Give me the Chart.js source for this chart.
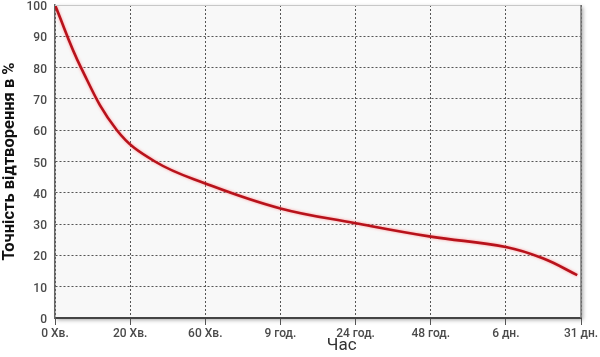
<!DOCTYPE html>
<html>
<head>
<meta charset="utf-8">
<script src="https://cdn.jsdelivr.net/npm/chart.js@4/dist/chart.umd.min.js"></script>
<style>
html,body{margin:0;padding:0;background:#fff;}
#wrap{width:600px;height:357px;position:relative;}
</style>
</head>
<body>
<div id="wrap"><canvas id="c" width="600" height="357"></canvas></div>
<script>
// Category tick labels along the time axis
const categories = ["0 Хв.", "20 Хв.", "60 Хв.", "9 год.", "24 год.", "48 год.", "6 дн.", "31 дн."];
// Curve samples: position along the axis (in category steps) and accuracy in %
const curveX = [0, 0.346, 0.824, 1.33, 2.0, 3.0, 4.0, 5.0, 6.0, 6.5, 6.95];
const curveY = [100, 80, 60, 50, 43, 35, 30.3, 26, 22.7, 19, 13.7];
const yTicks = [0, 10, 20, 30, 40, 50, 60, 70, 80, 90, 100];
const xTitle = 'Час';
const yTitle = 'Точність відтворення в %';

const points = curveX.map((x, i) => ({x: x, y: curveY[i]}));

const framePlugin = {
  id: 'frame',
  beforeDraw(chart) {
    const {ctx, chartArea: a} = chart;
    ctx.save();
    ctx.shadowColor = 'rgba(0,0,0,0.35)';
    ctx.shadowBlur = 4;
    ctx.shadowOffsetX = 2;
    ctx.shadowOffsetY = 2;
    ctx.fillStyle = '#f8f8f8';
    ctx.fillRect(a.left, a.top, a.right - a.left, a.bottom - a.top);
    ctx.restore();
  },
  afterDraw(chart) {
    const {ctx, chartArea: a} = chart;
    ctx.save();
    ctx.strokeStyle = '#c8c8c8';
    ctx.lineWidth = 1;
    ctx.beginPath();
    ctx.moveTo(a.left, a.top + 0.5);
    ctx.lineTo(a.right, a.top + 0.5);
    ctx.stroke();
    ctx.strokeStyle = '#777';
    ctx.lineWidth = 1.5;
    ctx.beginPath();
    ctx.moveTo(a.right, a.top);
    ctx.lineTo(a.right, a.bottom);
    ctx.stroke();
    // x-axis title, placed right of centre as in the original
    ctx.fillStyle = '#333';
    ctx.font = '17px Roboto';
    ctx.textAlign = 'center';
    ctx.textBaseline = 'middle';
    ctx.fillText(xTitle, a.left + (a.right - a.left) * 0.545, 346);
    ctx.restore();
  },
  beforeDatasetsDraw(chart) {
    const ctx = chart.ctx;
    ctx.save();
    ctx.shadowColor = 'rgba(255,90,90,0.6)';
    ctx.shadowBlur = 3;
  },
  afterDatasetsDraw(chart) {
    chart.ctx.restore();
  }
};

new Chart(document.getElementById('c'), {
  type: 'line',
  data: {
    datasets: [{
      data: points,
      borderColor: '#b8121b',
      borderWidth: 2.6,
      pointRadius: 0,
      fill: false,
      tension: 0.4
    }]
  },
  options: {
    responsive: false,
    animation: false,
    layout: {padding: {top: 5, right: 19, left: 0, bottom: 0}},
    plugins: {legend: {display: false}, tooltip: {enabled: false}},
    scales: {
      x: {
        type: 'linear',
        min: 0,
        max: categories.length - 1,
        afterFit(s) { s.height = 39; s.paddingLeft = 0; s.paddingRight = 0; },
        afterBuildTicks(s) { s.ticks = categories.map((c, i) => ({value: i})); },
        ticks: {
          callback: (v) => categories[v],
          color: '#4a4a4a',
          font: {family: 'Roboto', size: 12, weight: '500'},
          padding: 2,
          maxRotation: 0,
          autoSkip: false
        },
        grid: {color: '#555', lineWidth: 1, drawTicks: true, tickLength: 7, tickColor: '#555'},
        border: {display: true, color: '#444', width: 2, dash: [2, 2]},
        title: {display: false}
      },
      y: {
        min: 0,
        max: 100,
        afterFit(s) { s.width = 55; s.paddingTop = 0; s.paddingBottom = 0; },
        afterBuildTicks(s) { s.ticks = yTicks.map(v => ({value: v})); },
        ticks: {
          color: '#4a4a4a',
          font: {family: 'Roboto', size: 12, weight: '500'},
          padding: 8,
          labelOffset: 2
        },
        grid: {color: '#555', lineWidth: 1, drawTicks: false},
        border: {display: true, color: '#666', width: 1.5, dash: [2, 2]},
        title: {
          display: true,
          text: yTitle,
          color: '#111',
          font: {family: 'Roboto', size: 16.5, weight: 'bold'},
          padding: {top: 0, bottom: 1}
        }
      }
    }
  },
  plugins: [framePlugin]
});
</script>
</body>
</html>
